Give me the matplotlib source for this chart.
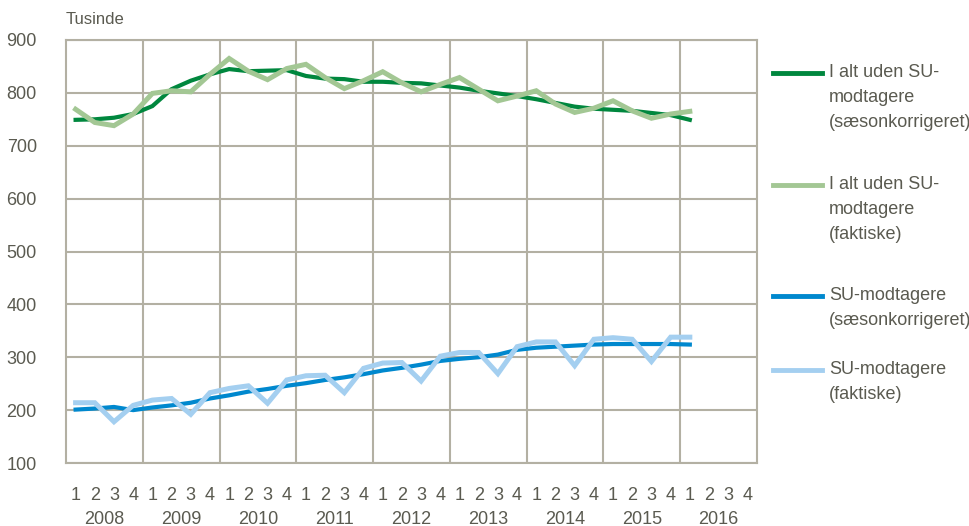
import numpy as np
import matplotlib
matplotlib.use('Agg')
from matplotlib import pyplot as plt
from matplotlib.lines import Line2D

plt.rcParams['font.family'] = ['Liberation Sans Narrow', 'Liberation Sans', 'DejaVu Sans']

# data, quarterly 2008Q1 - 2016Q1 (thousands)
years = ['2008', '2009', '2010', '2011', '2012', '2013', '2014', '2015', '2016']
quarters = ['1', '2', '3', '4']

ialt_saeson = [749, 750, 753, 760, 775, 807, 823, 835,
               845, 841, 842, 843, 832, 827, 826, 821,
               821, 819, 818, 814, 810, 804, 799, 794,
               788, 781, 774, 770, 768, 766, 762, 758,
               749]
ialt_faktisk = [769, 744, 738, 760, 799, 804, 802, 835,
                865, 841, 825, 846, 854, 829, 808, 823,
                840, 819, 802, 816, 829, 807, 785, 794,
                804, 779, 763, 771, 785, 766, 752, 760,
                765]
su_saeson = [201, 203, 206, 200, 205, 209, 214, 222,
             228, 235, 240, 246, 251, 257, 262, 268,
             275, 280, 286, 293, 297, 300, 305, 314,
             318, 320, 322, 324, 325, 325, 325, 325,
             324]
su_faktisk = [214, 214, 178, 209, 219, 222, 192, 233,
              241, 246, 213, 257, 265, 266, 233, 279,
              289, 290, 255, 302, 309, 309, 269, 320,
              329, 329, 284, 334, 337, 334, 292, 338,
              338]

labels = ['I alt uden SU-\nmodtagere\n(sæsonkorrigeret)',
          'I alt uden SU-\nmodtagere\n(faktiske)',
          'SU-modtagere\n(sæsonkorrigeret)',
          'SU-modtagere\n(faktiske)']
colors = ['#00873e', '#a3c794', '#0088ce', '#a4cff0']
widths = [3.0, 3.6, 3.0, 3.6]

grid_col = '#b3b0a3'
text_col = '#5a5a50'

fig = plt.figure(figsize=(9.7, 5.26), dpi=100)
ax = fig.add_axes([66 / 970, 1 - 463 / 526, (757 - 66) / 970, (463 - 40) / 526])

n_slots = len(years) * len(quarters)
series = [ialt_saeson, ialt_faktisk, su_saeson, su_faktisk]
for vals, c, w in zip(series, colors, widths):
    x = np.arange(len(vals))
    ax.plot(x, vals, color=c, lw=w, solid_joinstyle='miter', zorder=3)

ax.set_xlim(-0.5, n_slots - 0.5)
ax.set_ylim(100, 900)
ax.set_yticks(np.arange(100, 901, 100))
ax.set_xticks(np.arange(n_slots))
ax.set_xticklabels(quarters * len(years))
ax.set_xticks(np.arange(3.5, n_slots - 1, 4), minor=True)

ax.grid(axis='y', which='major', color=grid_col, lw=1.5)
ax.grid(axis='x', which='minor', color=grid_col, lw=1.5)
ax.grid(axis='x', which='major', visible=False)
ax.set_axisbelow(True)
for s in ax.spines.values():
    s.set_color(grid_col)
    s.set_linewidth(1.5)

ax.tick_params(axis='both', which='both', length=0, labelsize=13, colors=text_col)
ax.tick_params(axis='x', pad=17)
ax.tick_params(axis='y', pad=21)

for i, yr in enumerate(years):
    ax.text(4 * i + 1.5, -0.133, yr, transform=ax.get_xaxis_transform(),
            ha='center', va='center', fontsize=13, color=text_col)

fig.text(66 / 970, 1 - 20 / 526, 'Tusinde', ha='left', va='center', fontsize=12, color=text_col)

# legend drawn by hand on the right
leg_y = [73, 185, 296, 370]
for lab, c, yy in zip(labels, colors, leg_y):
    fy = 1 - yy / 526
    fig.add_artist(Line2D([773 / 970, 822 / 970], [fy, fy], color=c, lw=3.5,
                          transform=fig.transFigure))
    fig.text(829 / 970, 1 - (yy - 9) / 526, lab, ha='left', va='top', fontsize=13,
             color=text_col, linespacing=1.62)

fig.savefig('out.png', dpi=100)
